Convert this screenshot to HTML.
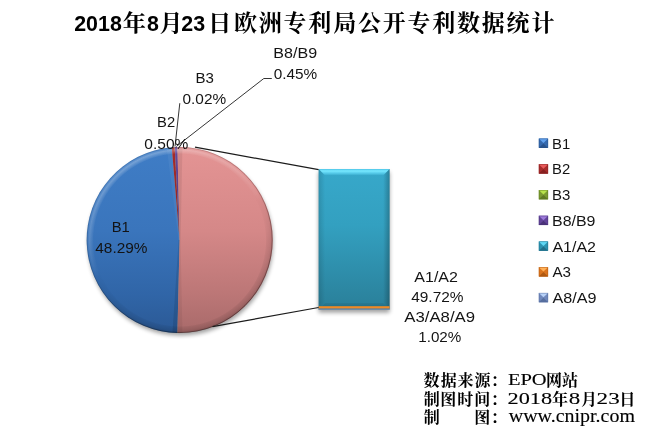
<!DOCTYPE html>
<html lang="zh"><head><meta charset="utf-8"><title>2018年8月23日欧洲专利局公开专利数据统计</title>
<style>html,body{margin:0;padding:0;background:#fff}body{width:655px;height:435px;overflow:hidden;font-family:"Liberation Sans",sans-serif}svg{display:block}</style></head>
<body><svg width="655" height="435" viewBox="0 0 655 435" role="img" aria-label="2018年8月23日欧洲专利局公开专利数据统计 数据来源：EPO网站 制图时间：2018年8月23日 制图：www.cnipr.com">
<defs>
<filter id="sh" x="-10%" y="-10%" width="120%" height="125%"><feGaussianBlur stdDeviation="2.2"/><feOffset dx=".5" dy="3"/><feComponentTransfer><feFuncA type="linear" slope=".38"/></feComponentTransfer></filter>
<filter id="sh2" x="-15%" y="-10%" width="130%" height="120%"><feGaussianBlur stdDeviation="2.2"/><feOffset dy="3"/><feComponentTransfer><feFuncA type="linear" slope=".38"/></feComponentTransfer></filter>
<clipPath id="pc"><circle cx="179.6" cy="240.0" r="93.0"/></clipPath>
<linearGradient id="gB1" gradientUnits="userSpaceOnUse" x1="0" y1="147" x2="0" y2="333"><stop offset="0" stop-color="#3f7dc6"/><stop offset=".45" stop-color="#3a75bc"/><stop offset=".8" stop-color="#3065a7"/><stop offset="1" stop-color="#2b5995"/></linearGradient>
<linearGradient id="gB2" gradientUnits="userSpaceOnUse" x1="0" y1="147" x2="0" y2="333"><stop offset="0" stop-color="#a82c2a"/><stop offset=".5" stop-color="#8c2422"/></linearGradient>
<linearGradient id="gB3" gradientUnits="userSpaceOnUse" x1="0" y1="147" x2="0" y2="333"><stop offset="0" stop-color="#9bbb59"/><stop offset=".5" stop-color="#7f9d45"/></linearGradient>
<linearGradient id="gB8" gradientUnits="userSpaceOnUse" x1="0" y1="147" x2="0" y2="333"><stop offset="0" stop-color="#65469c"/><stop offset=".5" stop-color="#523880"/></linearGradient>
<linearGradient id="gOt" gradientUnits="userSpaceOnUse" x1="0" y1="147" x2="0" y2="333"><stop offset="0" stop-color="#e49494"/><stop offset=".45" stop-color="#d58888"/><stop offset=".8" stop-color="#bb7676"/><stop offset="1" stop-color="#a86a6a"/></linearGradient>
<radialGradient id="ringW" gradientUnits="userSpaceOnUse" cx="179.6" cy="240.0" r="93.0"><stop offset="0.9247" stop-color="#fff" stop-opacity="0"/><stop offset="0.9355" stop-color="#fff" stop-opacity=".10"/><stop offset="0.9677" stop-color="#fff" stop-opacity=".30"/><stop offset="0.9892" stop-color="#fff" stop-opacity=".10"/><stop offset="1" stop-color="#fff" stop-opacity="0"/></radialGradient>
<radialGradient id="ringB" gradientUnits="userSpaceOnUse" cx="179.6" cy="240.0" r="93.0"><stop offset="0.9247" stop-color="#000" stop-opacity="0"/><stop offset="0.9355" stop-color="#000" stop-opacity=".06"/><stop offset="0.9731" stop-color="#000" stop-opacity=".13"/><stop offset="1" stop-color="#000" stop-opacity=".25"/></radialGradient>
<linearGradient id="mtopg" gradientUnits="userSpaceOnUse" x1="140" y1="155" x2="220" y2="325"><stop offset="0" stop-color="#fff"/><stop offset=".3" stop-color="#8a8a8a"/><stop offset=".5" stop-color="#000"/></linearGradient>
<linearGradient id="mbotg" gradientUnits="userSpaceOnUse" x1="140" y1="155" x2="220" y2="325"><stop offset=".45" stop-color="#000"/><stop offset=".7" stop-color="#a0a0a0"/><stop offset="1" stop-color="#fff"/></linearGradient>
<mask id="mtop" maskUnits="userSpaceOnUse" x="80" y="140" width="200" height="200"><rect x="80" y="140" width="200" height="200" fill="url(#mtopg)"/></mask>
<mask id="mbot" maskUnits="userSpaceOnUse" x="80" y="140" width="200" height="200"><rect x="80" y="140" width="200" height="200" fill="url(#mbotg)"/></mask>
<linearGradient id="pedge" gradientUnits="userSpaceOnUse" x1="100" y1="147" x2="260" y2="333"><stop offset="0" stop-color="#000" stop-opacity=".05"/><stop offset="1" stop-color="#000" stop-opacity=".40"/></linearGradient>
<linearGradient id="bv" x1="0" y1="0" x2="0" y2="1"><stop offset="0" stop-color="#37a8ca"/><stop offset=".4" stop-color="#33a0c0"/><stop offset="1" stop-color="#2a7f99"/></linearGradient>
<linearGradient id="btop" x1="0" y1="0" x2="0" y2="1"><stop offset="0" stop-color="#4cc4e6"/><stop offset=".3" stop-color="#78e8ff"/><stop offset=".62" stop-color="#58cdec"/><stop offset="1" stop-color="#37a8ca"/></linearGradient>
<linearGradient id="bleft" gradientUnits="userSpaceOnUse" x1="318.6" y1="0" x2="325.1" y2="0"><stop offset="0" stop-color="#000" stop-opacity=".13"/><stop offset="1" stop-color="#000" stop-opacity="0"/></linearGradient>
<linearGradient id="bright" gradientUnits="userSpaceOnUse" x1="389.6" y1="0" x2="383.1" y2="0"><stop offset="0" stop-color="#000" stop-opacity=".24"/><stop offset="1" stop-color="#000" stop-opacity="0"/></linearGradient>
<linearGradient id="bbot" gradientUnits="userSpaceOnUse" x1="0" y1="309.6" x2="0" y2="303.1"><stop offset="0" stop-color="#000" stop-opacity=".2"/><stop offset="1" stop-color="#000" stop-opacity=".06"/></linearGradient>
<linearGradient id="lv" x1="0" y1="0" x2="0" y2="1"><stop offset="0" stop-color="#fff" stop-opacity=".05"/><stop offset="1" stop-color="#000" stop-opacity=".18"/></linearGradient>
</defs>
<rect width="655" height="435" fill="#fff"/>
<g filter="url(#sh)">
<circle cx="179.6" cy="240.0" r="92.5" fill="#000"/>
</g>
<path d="M179.60 240.00L177.44 332.97A93.0 93.0 0 0 1 171.78 147.33Z" fill="url(#gB1)"/>
<path d="M179.60 240.00L171.78 147.33A93.0 93.0 0 0 1 174.69 147.13Z" fill="url(#gB2)"/>
<path d="M179.60 240.00L174.69 147.13A93.0 93.0 0 0 1 174.81 147.12Z" fill="url(#gB3)"/>
<path d="M179.60 240.00L174.81 147.12A93.0 93.0 0 0 1 177.44 147.03Z" fill="url(#gB8)"/>
<path d="M179.60 240.00L177.44 147.03A93.0 93.0 0 1 1 177.44 332.97Z" fill="url(#gOt)"/>
<path d="M179.60 240.00L171.78 147.33L166.80 147.75L178.60 240.08Z" fill="#fff" fill-opacity="0.05" clip-path="url(#pc)"/>
<path d="M179.60 240.00L177.44 147.03L182.44 146.91L180.60 239.98Z" fill="#000" fill-opacity="0.07" clip-path="url(#pc)"/>
<path d="M179.60 240.00L177.44 332.97L182.44 333.09L180.60 240.02Z" fill="#000" fill-opacity="0.05" clip-path="url(#pc)"/>
<path d="M179.60 240.00L177.44 332.97L172.44 332.86L178.60 239.98Z" fill="#000" fill-opacity="0.1" clip-path="url(#pc)"/>
<circle cx="179.6" cy="240.0" r="93.0" fill="url(#ringW)" mask="url(#mtop)"/>
<circle cx="179.6" cy="240.0" r="93.0" fill="url(#ringB)" mask="url(#mbot)"/>
<circle cx="179.6" cy="240.0" r="92.6" fill="none" stroke="url(#pedge)" stroke-width="0.9"/>
<g filter="url(#sh2)">
<rect x="318.6" y="169.0" width="71.0" height="140.60000000000002" fill="#000"/>
</g>
<rect x="318.6" y="169.0" width="71.0" height="140.60000000000002" fill="url(#bv)"/>
<path d="M318.6 169.0L389.6 169.0L383.1 175.5L325.1 175.5Z" fill="url(#btop)"/>
<path d="M318.6 169.0L325.1 175.5L325.1 303.1L318.6 309.6Z" fill="url(#bleft)"/>
<path d="M389.6 169.0L383.1 175.5L383.1 303.1L389.6 309.6Z" fill="url(#bright)"/>
<path d="M318.6 309.6L325.1 303.1L383.1 303.1L389.6 309.6Z" fill="url(#bbot)"/>
<rect x="318.6" y="306.2" width="71.0" height="2.4" fill="#f08a26"/>
<rect x="318.6" y="308.7" width="71.0" height="0.9" fill="#7f93bd"/>
<path d="M195 147.2L318.6 169.7" stroke="#1c1c1c" stroke-width="1.25" fill="none"/>
<path d="M212.5 326.7L318.6 307.5" stroke="#1c1c1c" stroke-width="1.25" fill="none"/>
<path d="M175 146.5L179.8 103.2" stroke="#2a2a2a" stroke-width="0.95" fill="none"/>
<path d="M176.3 146.5L263.8 78.5L271.8 78.5" stroke="#2a2a2a" stroke-width="0.95" fill="none"/>
<g font-family="'Liberation Sans', sans-serif" font-size="14.7" fill="#141414" opacity=".999">
<text x="157.14" y="126.80" textLength="18.08" lengthAdjust="spacingAndGlyphs">B2</text>
<text x="144.34" y="148.50" textLength="44.02" lengthAdjust="spacingAndGlyphs">0.50%</text>
<text x="195.52" y="83.10" textLength="18.42" lengthAdjust="spacingAndGlyphs">B3</text>
<text x="182.55" y="104.30" textLength="43.61" lengthAdjust="spacingAndGlyphs">0.02%</text>
<text x="273.33" y="57.90" textLength="43.77" lengthAdjust="spacingAndGlyphs">B8/B9</text>
<text x="273.75" y="79.00" textLength="43.51" lengthAdjust="spacingAndGlyphs">0.45%</text>
<text x="111.74" y="231.80" textLength="18.08" lengthAdjust="spacingAndGlyphs">B1</text>
<text x="95.31" y="252.90" textLength="52.20" lengthAdjust="spacingAndGlyphs">48.29%</text>
<text x="414.30" y="281.90" textLength="43.63" lengthAdjust="spacingAndGlyphs">A1/A2</text>
<text x="411.21" y="302.40" textLength="52.30" lengthAdjust="spacingAndGlyphs">49.72%</text>
<text x="404.30" y="321.70" textLength="70.78" lengthAdjust="spacingAndGlyphs">A3/A8/A9</text>
<text x="418.24" y="342.40" textLength="43.11" lengthAdjust="spacingAndGlyphs">1.02%</text>
<g transform="translate(538.8 138.60)"><rect width="9.3" height="9.3" fill="#3569ae"/><path d="M0 0L9.3 0L4.65 4.4Z" fill="#62a2ee"/><path d="M0 9.3L9.3 9.3L4.65 4.9Z" fill="#28528c"/><rect x=".3" y=".3" width="8.7" height="8.7" fill="none" stroke="#28528c" stroke-width=".6" stroke-opacity=".7"/></g>
<text x="552.14" y="148.75" textLength="18.15" lengthAdjust="spacingAndGlyphs">B1</text>
<g transform="translate(538.8 164.32)"><rect width="9.3" height="9.3" fill="#a82c2c"/><path d="M0 0L9.3 0L4.65 4.4Z" fill="#e85a5a"/><path d="M0 9.3L9.3 9.3L4.65 4.9Z" fill="#872020"/><rect x=".3" y=".3" width="8.7" height="8.7" fill="none" stroke="#872020" stroke-width=".6" stroke-opacity=".7"/></g>
<text x="552.14" y="174.47" textLength="18.15" lengthAdjust="spacingAndGlyphs">B2</text>
<g transform="translate(538.8 190.04)"><rect width="9.3" height="9.3" fill="#7a9a30"/><path d="M0 0L9.3 0L4.65 4.4Z" fill="#b8e34a"/><path d="M0 9.3L9.3 9.3L4.65 4.9Z" fill="#5f7a22"/><rect x=".3" y=".3" width="8.7" height="8.7" fill="none" stroke="#5f7a22" stroke-width=".6" stroke-opacity=".7"/></g>
<text x="552.12" y="200.19" textLength="18.33" lengthAdjust="spacingAndGlyphs">B3</text>
<g transform="translate(538.8 215.76)"><rect width="9.3" height="9.3" fill="#62449a"/><path d="M0 0L9.3 0L4.65 4.4Z" fill="#9d7adb"/><path d="M0 9.3L9.3 9.3L4.65 4.9Z" fill="#4a3278"/><rect x=".3" y=".3" width="8.7" height="8.7" fill="none" stroke="#4a3278" stroke-width=".6" stroke-opacity=".7"/></g>
<text x="552.04" y="225.91" textLength="43.42" lengthAdjust="spacingAndGlyphs">B8/B9</text>
<g transform="translate(538.8 241.48)"><rect width="9.3" height="9.3" fill="#2c93b0"/><path d="M0 0L9.3 0L4.65 4.4Z" fill="#5fd8f5"/><path d="M0 9.3L9.3 9.3L4.65 4.9Z" fill="#20708a"/><rect x=".3" y=".3" width="8.7" height="8.7" fill="none" stroke="#20708a" stroke-width=".6" stroke-opacity=".7"/></g>
<text x="552.40" y="251.63" textLength="43.62" lengthAdjust="spacingAndGlyphs">A1/A2</text>
<g transform="translate(538.8 267.20)"><rect width="9.3" height="9.3" fill="#db741e"/><path d="M0 0L9.3 0L4.65 4.4Z" fill="#ffb25a"/><path d="M0 9.3L9.3 9.3L4.65 4.9Z" fill="#b05a12"/><rect x=".3" y=".3" width="8.7" height="8.7" fill="none" stroke="#b05a12" stroke-width=".6" stroke-opacity=".7"/></g>
<text x="552.40" y="277.35" textLength="18.51" lengthAdjust="spacingAndGlyphs">A3</text>
<g transform="translate(538.8 292.92)"><rect width="9.3" height="9.3" fill="#7088bc"/><path d="M0 0L9.3 0L4.65 4.4Z" fill="#b8d2f8"/><path d="M0 9.3L9.3 9.3L4.65 4.9Z" fill="#566e9e"/><rect x=".3" y=".3" width="8.7" height="8.7" fill="none" stroke="#566e9e" stroke-width=".6" stroke-opacity=".7"/></g>
<text x="552.40" y="303.07" textLength="44.02" lengthAdjust="spacingAndGlyphs">A8/A9</text>
</g>
<g fill="#000" stroke="#000" stroke-width="16" stroke-linejoin="round">
<g font-family="'Liberation Sans', sans-serif" font-weight="bold" font-size="21.7" opacity=".999" stroke="none">
<text x="74.2" y="30.9" textLength="47.6" lengthAdjust="spacingAndGlyphs">2018</text>
<text x="122.84" y="31.3" font-size="23.2" font-family="'Liberation Serif', 'Noto Serif CJK SC', serif">年</text>
<text x="147.0" y="30.9" textLength="11.9" lengthAdjust="spacingAndGlyphs">8</text>
<text x="159.44" y="31.3" font-size="23.2" font-family="'Liberation Serif', 'Noto Serif CJK SC', serif">月</text>
<text x="181.3" y="30.9" textLength="23.8" lengthAdjust="spacingAndGlyphs">23</text>
<text x="207.90" y="31.3" font-size="23.2" font-family="'Liberation Serif', 'Noto Serif CJK SC', serif">日</text>
<text x="234.02 258.80 283.58 308.36 333.14 357.92 382.70 407.48 432.26 457.04 481.82 506.60 531.38" y="31.3" font-size="23" font-family="'Liberation Serif', 'Noto Serif CJK SC', serif">欧洲专利局公开专利数据统计</text>
</g>
</g>
<g fill="#000">
<g font-family="'Liberation Serif', serif" opacity=".999" stroke="#000" stroke-width=".12">
<text x="423.50 440.68 457.61 474.61 490.74" y="386.45" font-size="16" font-weight="bold" font-family="'Liberation Serif', 'Noto Serif CJK SC', serif" stroke="none">数据来源：</text>
<text x="507.90" y="384.50" textLength="38.81" lengthAdjust="spacingAndGlyphs" font-size="17.0">EPO</text>
<text x="546.12 561.94" y="386.45" font-size="16" font-weight="bold" font-family="'Liberation Serif', 'Noto Serif CJK SC', serif" stroke="none">网站</text>
<text x="423.67 440.28 457.15 474.28 490.74" y="405.05" font-size="16" font-weight="bold" font-family="'Liberation Serif', 'Noto Serif CJK SC', serif" stroke="none">制图时间：</text>
<text x="507.55" y="403.80" textLength="44.62" lengthAdjust="spacingAndGlyphs" font-size="17.6">2018</text>
<text x="552.03" y="405.05" font-size="16" font-weight="bold" font-family="'Liberation Serif', 'Noto Serif CJK SC', serif" stroke="none">年</text>
<text x="568.88" y="403.80" textLength="11.49" lengthAdjust="spacingAndGlyphs" font-size="17.6">8</text>
<text x="580.97" y="405.05" font-size="16" font-weight="bold" font-family="'Liberation Serif', 'Noto Serif CJK SC', serif" stroke="none">月</text>
<text x="596.61" y="403.80" textLength="23.13" lengthAdjust="spacingAndGlyphs" font-size="17.6">23</text>
<text x="619.17" y="405.05" font-size="16" font-weight="bold" font-family="'Liberation Serif', 'Noto Serif CJK SC', serif" stroke="none">日</text>
<text x="423.67 474.28 490.74" y="423.05" font-size="16" font-weight="bold" font-family="'Liberation Serif', 'Noto Serif CJK SC', serif" stroke="none">制图：</text>
<text x="508.80" y="422.20" textLength="126.15" lengthAdjust="spacingAndGlyphs" font-size="18.0">www.cnipr.com</text>
</g>
</g>
</svg></body></html>
